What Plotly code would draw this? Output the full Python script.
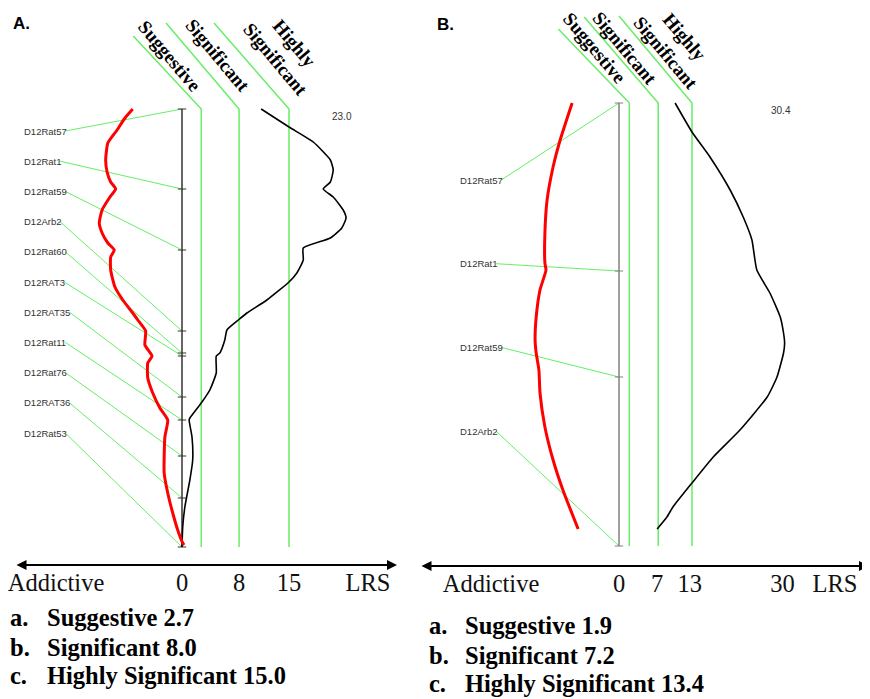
import plotly.graph_objects as go

# page body has an 8px margin; figure is laid out in reference-pixel terms minus that offset
OFF = 8
W, H = 870 - OFF, 699 - OFF

# ---------------- Panel A data ----------------
markers_A = ["D12Rat57", "D12Rat1", "D12Rat59", "D12Arb2", "D12Rat60", "D12RAT3",
             "D12RAT35", "D12Rat11", "D12Rat76", "D12RAT36", "D12Rat53"]
marker_pos_A = [0.0, 8.0, 14.1, 22.2, 24.4, 24.7, 28.8, 31.1, 34.7, 38.9, 43.8]
lrs_pos_A = [0, 1.8, 3.3, 5.1, 6.1, 7.3, 8.0, 8.8, 10.1, 10.9, 11.9, 12.9, 13.9, 15.1,
             16.4, 17.3, 19.1, 20.4, 21.1, 22.1, 23.1, 24.4, 24.7, 26.4, 28.1, 29.3,
             30.9, 31.1, 32.8, 35.1, 37.1, 39.8, 41.8, 43.8]
lrs_A = [11.1, 15.0, 18.4, 20.8, 21.2, 20.8, 19.8, 21.2, 22.6, 23.0, 22.4, 20.8, 17.0, 17.0,
         16.1, 15.0, 11.9, 9.1, 7.9, 6.3, 6.0, 5.3, 4.8, 4.8, 3.9, 2.8,
         1.1, 1.0, 1.4, 1.5, 1.1, 0.4, 0.1, 0.0]
add_pos_A = [0, 0.9, 2.1, 3.4, 5.1, 6.3, 7.3, 8.0, 8.8, 10.1, 11.4, 12.4, 13.4, 14.1, 14.8,
             16.1, 17.8, 19.1, 20.4, 21.1, 22.2, 23.6, 24.7, 25.4, 26.9, 28.4, 29.9, 31.1,
             32.8, 36.4, 38.4, 40.4, 42.1, 43.4, 43.6]
add_A = [-6.9, -8.0, -9.1, -10.4, -10.7, -10.5, -10.0, -9.3, -10.1, -11.2, -11.6, -11.2, -10.4,
         -9.5, -10.0, -10.0, -9.4, -8.3, -6.9, -6.2, -5.1, -5.2, -4.2, -4.8, -4.8, -4.1,
         -3.1, -2.0, -2.4, -2.5, -2.0, -1.3, -0.6, 0.1, 0.3]
thresholds_A = [2.7, 8.0, 15.0]
lrs_ticks_A = [0, 8, 15]

# ---------------- Panel B data ----------------
markers_B = ["D12Rat57", "D12Rat1", "D12Rat59", "D12Arb2"]
marker_pos_B = [0.0, 16.8, 27.4, 44.3]
lrs_pos_B = [0, 2.9, 5.4, 8.7, 11.4, 13.7, 16.7, 19.0, 21.4, 23.0, 24.0, 25.0, 27.4, 29.4,
             32.7, 35.4, 38.0, 40.4, 41.4, 42.6]
lrs_B = [10.3, 13.4, 16.7, 20.4, 22.8, 24.4, 25.3, 27.7, 29.6, 30.2, 30.4, 30.2, 29.0, 27.2,
         22.2, 17.3, 13.4, 9.9, 8.8, 7.0]
add_pos_B = [0, 3.7, 6.4, 9.7, 13.0, 16.0, 16.7, 18.7, 21.4, 23.7, 25.0, 26.7, 29.0, 32.4,
             35.7, 38.7, 42.6]
add_B = [-8.6, -10.8, -12.1, -13.2, -13.6, -13.6, -13.4, -14.5, -15.2, -15.4, -15.2, -14.7,
         -14.5, -13.6, -12.1, -10.3, -7.5]
thresholds_B = [1.9, 7.2, 13.4]
lrs_ticks_B = [0, 7, 13, 30]

threshold_names = ["Suggestive", "Significant", "Highly Significant"]
threshold_heads = ["Suggestive", "Significant", "Highly<br>Significant"]
threshold_letters = ["a.", "b.", "c."]

# ---------------- layout / style (reference pixel geometry) ----------------
GREEN = "#66ee66"
SERIF = "Liberation Serif"
SANS = "Liberation Sans"

panels = [
    dict(key="A", xa="x", ya="y", left=OFF, right=420, x0=182, sx=7.133, y0=109, sy=10,
         markers=markers_A, mpos=marker_pos_A, lpos=lrs_pos_A, lrs=lrs_A,
         apos=add_pos_A, add=add_A, thr=thresholds_A, ticks=lrs_ticks_A,
         axis_color="#333333", label_px=22, label_y0=131, label_dy=30.2,
         diag=[(-68, -73), (-73, -86), (-75, -86)],
         head_off=[(-31, -53), (-21, -54), (-4.5, -58)],
         arrow=(15, 397, 565), addictive_px=56, lrs_px=368,
         title_xy=(21, 23), legend_x=(8, 45), legend_y=[617, 647, 675], peak_shift=-4),
    dict(key="B", xa="x2", ya="y2", left=420, right=870, x0=619, sx=5.448, y0=103, sy=10,
         markers=markers_B, mpos=marker_pos_B, lpos=lrs_pos_B, lrs=lrs_B,
         apos=add_pos_B, add=add_B, thr=thresholds_B, ticks=lrs_ticks_B,
         axis_color="#808080", label_px=458, label_y0=180, label_dy=83.7,
         diag=[(-71, -74), (-74, -86), (-73, -87)],
         head_off=[(-34, -55), (-33, -55), (-17, -58)],
         arrow=(420, 869, 566), addictive_px=491, lrs_px=835,
         title_xy=(446, 24), legend_x=(427, 463), legend_y=[625, 655, 683], peak_shift=-4),
]

ARIAL_W = {"D": .722, "R": .722, "A": .667, "T": .611, "a": .556, "t": .278, "r": .333,
           "b": .556}
LABEL_FS = 9.5


def text_width(s, fs):
    return sum(ARIAL_W.get(c, .556) for c in s) * fs


def paper_x(px):
    return (px - OFF) / W


def paper_y(py):
    return 1 - (py - OFF) / H


fig = go.Figure()
annotations = []
layout_axes = {}

for i, p in enumerate(panels):
    xa, ya = p["xa"], p["ya"]
    sx, sy = p["sx"], p["sy"]
    fx = lambda px, p=p: (px - p["x0"]) / p["sx"]
    fy = lambda py, p=p: (py - p["y0"]) / p["sy"]
    chrom_end = p["mpos"][-1]

    # threshold lines with diagonal leaders
    for t, (dx, dy), (hx, hy), head in zip(p["thr"], p["diag"], p["head_off"], threshold_heads):
        fig.add_trace(go.Scatter(x=[t, t, t + dx / sx], y=[chrom_end, 0, dy / sy],
                                 mode="lines", line=dict(color=GREEN, width=1.5),
                                 xaxis=xa, yaxis=ya, hoverinfo="skip"))
        annotations.append(dict(x=t, y=0, xref=xa, yref=ya, text="<b>" + head + "</b>",
                                showarrow=False, textangle=50, xshift=hx, yshift=-hy,
                                xanchor="center", yanchor="middle", align="center",
                                font=dict(family=SERIF, size=19, color="black")))

    # marker labels and connectors
    for k, (name, mp) in enumerate(zip(p["markers"], p["mpos"])):
        ly = fy(p["label_y0"] + k * p["label_dy"])
        lx0 = fx(p["label_px"])
        lx1 = fx(p["label_px"] + text_width(name, LABEL_FS) + 0.5)
        fig.add_trace(go.Scatter(x=[lx1, 0], y=[ly, mp], mode="lines",
                                 line=dict(color=GREEN, width=1), xaxis=xa, yaxis=ya,
                                 hoverinfo="skip"))
        annotations.append(dict(x=lx0, y=ly, xref=xa, yref=ya, text=name, showarrow=False,
                                xanchor="left", yanchor="middle",
                                font=dict(family=SANS, size=LABEL_FS, color="#333333")))

    # chromosome axis with marker ticks
    fig.add_trace(go.Scatter(x=[0, 0], y=[0, chrom_end], mode="lines",
                             line=dict(color=p["axis_color"], width=1.5), xaxis=xa, yaxis=ya,
                             hoverinfo="skip"))
    fig.add_trace(go.Scatter(x=[0] * len(p["mpos"]), y=p["mpos"], mode="markers",
                             marker=dict(symbol="line-ew", size=6,
                                         line=dict(color=p["axis_color"], width=1)),
                             xaxis=xa, yaxis=ya, hoverinfo="skip"))

    # LRS curve
    fig.add_trace(go.Scatter(x=p["lrs"], y=p["lpos"], mode="lines",
                             line=dict(color="black", width=1.6, shape="spline", smoothing=0.5),
                             xaxis=xa, yaxis=ya))
    # additive curve
    fig.add_trace(go.Scatter(x=p["add"], y=p["apos"], mode="lines",
                             line=dict(color="#ff0000", width=3, shape="spline", smoothing=0.5),
                             xaxis=xa, yaxis=ya))

    # peak label
    pk = max(p["lrs"])
    annotations.append(dict(x=pk, y=fy(p["y0"] + 7), xref=xa, yref=ya, text=f"{pk:.1f}",
                            showarrow=False, xshift=p["peak_shift"], xanchor="center",
                            yanchor="middle", font=dict(family=SANS, size=10, color="#333333")))

    # double-headed LRS arrow
    ax0, ax1, ay = p["arrow"]
    annotations.append(dict(x=fx(ax1), y=fy(ay), ax=fx(ax0), ay=fy(ay), xref=xa, yref=ya,
                            axref=xa, ayref=ya, text="", showarrow=True, arrowhead=2,
                            arrowside="end+start", arrowwidth=2, arrowsize=1,
                            arrowcolor="black", standoff=0, startstandoff=0))

    # panel title
    tx, ty = p["title_xy"]
    annotations.append(dict(x=paper_x(tx), y=paper_y(ty), xref="paper", yref="paper",
                            xanchor="center", yanchor="middle",
                            text="<b>" + p["key"] + ".</b>", showarrow=False,
                            font=dict(family=SANS, size=17, color="black")))

    # threshold list
    lx_a, lx_b = p["legend_x"]
    for letter, name, t, yy in zip(threshold_letters, threshold_names, p["thr"], p["legend_y"]):
        annotations.append(dict(x=paper_x(lx_a), y=paper_y(yy), xref="paper", yref="paper",
                                text="<b>" + letter + "</b>", showarrow=False, xanchor="left",
                                yanchor="middle",
                                font=dict(family=SERIF, size=24.5, color="black")))
        annotations.append(dict(x=paper_x(lx_b), y=paper_y(yy), xref="paper", yref="paper",
                                text=f"<b>{name} {t:.1f}</b>", showarrow=False, xanchor="left",
                                yanchor="middle",
                                font=dict(family=SERIF, size=24.5, color="black")))

    # axes
    suffix = "" if i == 0 else str(i + 1)
    tickvals = [fx(p["addictive_px"])] + list(p["ticks"]) + [fx(p["lrs_px"])]
    ticktext = ["Addictive"] + [str(v) for v in p["ticks"]] + ["LRS"]
    layout_axes["xaxis" + suffix] = dict(
        domain=[paper_x(p["left"]), paper_x(p["right"])],
        range=[fx(p["left"]), fx(p["right"])],
        anchor="free", position=paper_y(ay),
        showgrid=False, zeroline=False, showline=False, ticks="",
        tickmode="array", tickvals=tickvals, ticktext=ticktext,
        ticklabeloverflow="allow",
        tickfont=dict(family=SERIF, size=24.5, color="#111111"), fixedrange=True)
    layout_axes["yaxis" + suffix] = dict(
        domain=[0, 1], range=[fy(OFF + H), fy(OFF)], visible=False, anchor=xa,
        fixedrange=True)

fig.update_layout(width=W, height=H, margin=dict(l=0, r=0, t=0, b=0),
                  paper_bgcolor="white", plot_bgcolor="white", showlegend=False,
                  annotations=annotations, **layout_axes)

fig.write_html("out.html")
